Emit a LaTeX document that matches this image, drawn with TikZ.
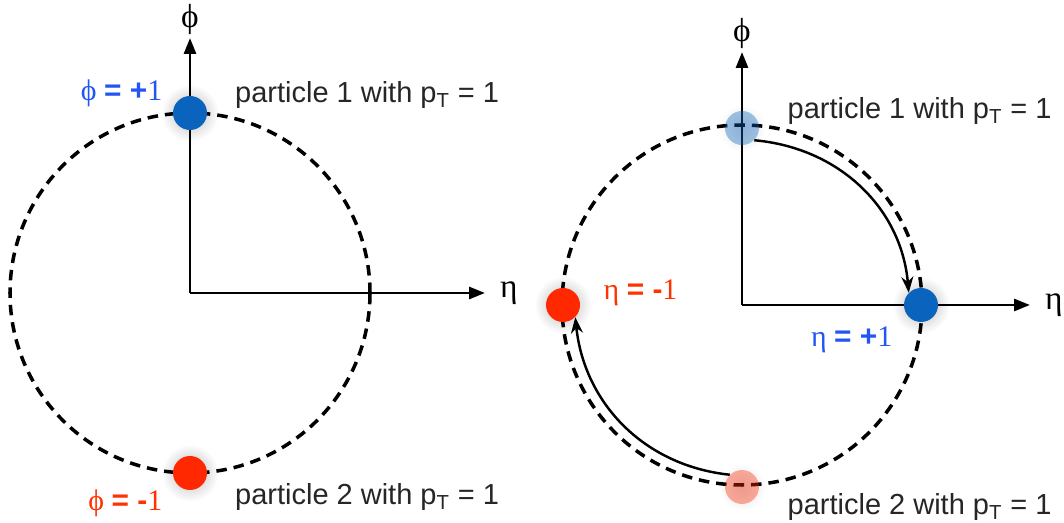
\documentclass[tikz,border=0pt]{standalone}
\usepackage{fontspec}
\setsansfont{Liberation Sans}
\newfontfamily\grk{Liberation Serif}
\usetikzlibrary{positioning,arrows.meta}
\definecolor{dotblue}{RGB}{10,100,190}
\definecolor{dotred}{RGB}{255,40,0}
\definecolor{valblue}{RGB}{35,85,245}
\definecolor{valred}{RGB}{255,50,0}
\tikzset{
  axis/.style   = {-{Triangle[length=0.32cm,width=0.24cm]}, line width=1.6pt},
  orbit/.style  = {dash pattern=on 0.21cm off 0.14cm, line width=2pt},
  move/.style   = {-{Stealth[length=0.32cm,width=0.24cm]}, line width=1.4pt},
  dot/.style    = {circle, minimum size=0.68cm, inner sep=0pt},
  glow/.style   = {circle, minimum size=1.15cm, inner sep=0pt, shading=radial,
                   inner color=black!28, outer color=white},
  axlab/.style  = {inner sep=1pt, font=\grk\fontsize{19}{21}\selectfont},
  tag/.style    = {inner sep=0pt, font=\sffamily\fontsize{16.5}{18}\selectfont, text=black!85},
  val/.style    = {inner sep=0pt, font=\grk\fontsize{17}{19}\selectfont},
}
\newcommand{\ptlab}[1]{particle #1 with p\textsubscript{T} = 1}
\begin{document}
\begin{tikzpicture}[x=0.02cm, y=0.02cm]
  \useasboundingbox (0,0) rectangle (1064,523);

  % left: the two particles sit at phi = +1 and phi = -1
  \coordinate (o1) at (190,230);
  \coordinate (y1) at (190,485);
  \coordinate (x1) at (485,230);
  \node[glow] (g1) at (190,410) {};
  \node[glow] (g2) at (190,50) {};
  \draw[orbit] (o1) circle[radius=180];
  \draw[axis] (o1) -- (y1);
  \draw[axis] (o1) -- (x1);
  \node[dot, fill=dotblue] (a1) at (190,410) {};
  \node[dot, fill=dotred]  (a2) at (190,50) {};
  \node[axlab, above=0.02cm of y1] (ly1) {ϕ};
  \node[axlab, right=0.26cm of x1] (lx1) {η};
  \node[val, text=valblue, left=0.2cm of a1, yshift=0.4cm] (v1) {ϕ \textsf{\textbf{= +}}1};
  \node[val, text=valred, left=0.2cm of a2, yshift=-0.6cm] (v2) {ϕ \textsf{\textbf{= -}}1};
  \node[tag, right=0.55cm of a1, yshift=0.36cm] (t1) {\ptlab{1}};
  \node[tag, right=0.55cm of a2, yshift=-0.48cm] (t2) {\ptlab{2}};

  % right: the same pair rotated onto the eta axis
  \coordinate (o2) at (742,218);
  \coordinate (y2) at (742,471);
  \coordinate (x2) at (1030,218);
  \node[glow, minimum size=0.95cm, inner color=black!12] (g3) at (742,395) {};
  \node[glow] (g4) at (921,218) {};
  \node[glow] (g5) at (563,218) {};
  \node[glow, minimum size=0.95cm, inner color=black!12] (g6) at (742,36) {};
  \draw[orbit] (o2) circle[radius=180];
  \draw[axis] (o2) -- (y2);
  \draw[axis] (o2) -- (x2);
  \node[dot, fill=dotblue, fill opacity=0.38] (b1) at (742,395) {};
  \node[dot, fill=dotblue] (b2) at (921,218) {};
  \node[dot, fill=dotred]  (b3) at (563,218) {};
  \node[dot, fill=dotred, fill opacity=0.38] (b4) at (742,36) {};
  \draw[move] (b1.south east) to[out=-5, in=95] (b2.north west);
  \draw[move] (b4.north west) to[out=174, in=-84] (b3.south east);
  \node[axlab, above=0.02cm of y2] (ly2) {ϕ};
  \node[axlab, right=0.26cm of x2] (lx2) {η};
  \node[val, text=valblue, left=0.22cm of b2, yshift=-0.7cm] (v3) {η \textsf{\textbf{= +}}1};
  \node[val, text=valred, right=0.46cm of b3, yshift=0.24cm] (v4) {η \textsf{\textbf{= -}}1};
  \node[tag, right=0.56cm of b1, yshift=0.34cm] (t3) {\ptlab{1}};
  \node[tag, right=0.56cm of b4, yshift=-0.4cm] (t4) {\ptlab{2}};
\end{tikzpicture}
\end{document}
